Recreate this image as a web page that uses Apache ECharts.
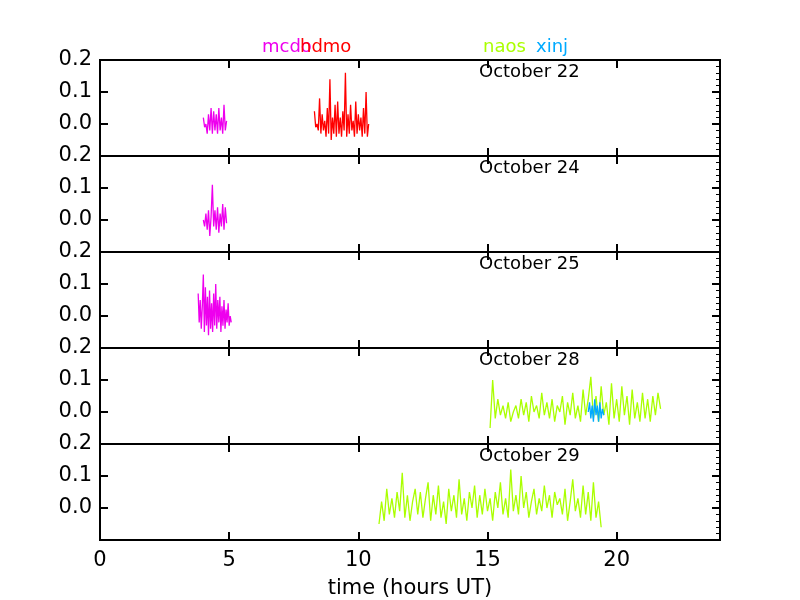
<!DOCTYPE html>
<html>
<head>
<meta charset="UTF-8">
<script src="https://cdn.jsdelivr.net/npm/echarts@6/dist/echarts.min.js"></script>
<style>body{margin:0}#c{width:800px;height:600px}</style>
</head>
<body>
<div id="c"></div>
<script>
// panel titles
const days = ['October 22', 'October 24', 'October 25', 'October 28', 'October 29'];
const xTicks = [0, 5, 10, 15, 20];
// each trace: panel, station, start hour, step (hours), values
const mcdo22 = [0.02,-0.01,0.0,-0.03,0.03,-0.02,0.05,-0.03,0.04,-0.02,0.03,-0.03,0.05,-0.02,0.02,-0.03,0.06,-0.02,0.01];
const hdmo22 = [0.04,-0.01,0.0,-0.02,0.08,-0.03,0.03,-0.02,0.01,-0.04,0.05,-0.03,0.14,-0.05,0.02,-0.03,0.06,-0.04,0.07,-0.03,
  0.02,-0.04,0.04,-0.02,0.16,-0.04,0.03,-0.03,0.06,-0.02,0.01,-0.04,0.07,-0.03,0.03,-0.02,0.02,-0.04,0.05,-0.03,0.1,-0.04,0.0];
const mcdo24 = [0.0,-0.02,0.02,-0.03,0.03,-0.05,0.01,0.11,-0.02,0.03,-0.03,0.04,-0.04,0.02,-0.02,0.05,-0.03,0.04,-0.01];
const mcdo25 = [0.07,-0.02,0.05,-0.04,0.03,0.13,-0.05,0.09,-0.03,0.06,-0.06,0.08,-0.04,0.04,-0.05,0.07,-0.03,0.1,-0.04,0.05,
  -0.02,0.06,-0.05,0.03,-0.03,0.05,-0.04,0.02,-0.02,0.04,-0.03,0.0,-0.02];
const naos28 = [-0.05,0.1,-0.02,0.04,-0.01,0.02,-0.02,0.03,-0.03,0.0,0.02,-0.02,0.04,-0.01,0.03,-0.03,0.05,0.0,0.02,-0.02,
  0.06,-0.01,0.03,-0.02,0.04,-0.03,0.02,0.0,0.05,-0.04,0.03,-0.01,0.06,-0.02,0.02,-0.03,0.07,-0.01,0.04,0.11,
  -0.02,0.05,-0.03,0.08,-0.01,0.03,-0.04,0.09,-0.02,0.04,-0.03,0.08,-0.01,0.05,-0.04,0.07,-0.02,0.03,-0.03,0.06,
  -0.02,0.04,-0.03,0.05,-0.01,0.06,0.01];
const xinj28 = [0.0,0.03,-0.02,0.02,-0.03,0.04,-0.01,0.02,-0.03,0.03,-0.02,0.01,-0.01];
const naos29 = [-0.05,0.02,-0.04,0.06,-0.02,0.03,-0.03,0.05,-0.01,0.11,-0.03,0.04,-0.04,0.02,0.06,-0.02,0.05,-0.03,0.03,0.08,
  -0.04,0.04,-0.02,0.07,-0.03,0.02,-0.05,0.06,-0.01,0.04,-0.03,0.09,-0.02,0.03,-0.04,0.05,0.0,0.07,-0.03,0.04,
  -0.02,0.06,-0.01,0.03,-0.04,0.05,0.0,0.08,-0.02,0.03,-0.03,0.12,-0.01,0.04,-0.02,0.1,0.0,0.05,-0.03,0.02,
  0.06,-0.02,0.03,-0.01,0.07,0.0,0.04,-0.03,0.05,0.01,0.03,-0.02,0.06,-0.04,0.02,0.09,-0.01,0.03,-0.03,0.07,
  -0.02,0.05,-0.04,0.08,-0.03,0.02,-0.06];
const traces = [
  [0, 'mcdo', 4.0, 0.05, mcdo22], [0, 'hdmo', 8.3, 0.05, hdmo22],
  [1, 'mcdo', 4.0, 0.05, mcdo24], [2, 'mcdo', 3.8, 0.04, mcdo25],
  [3, 'naos', 15.1, 0.1, naos28], [3, 'xinj', 18.9, 0.05, xinj28],
  [4, 'naos', 10.8, 0.1, naos29]
];
const colors = {mcdo: '#ee00ee', hdmo: '#ff0000', naos: '#aaff00', xinj: '#00aaff'};
const names = [['mcdo', 262], ['hdmo', 300], ['naos', 483], ['xinj', 536]];

const grid = [], xAxis = [], yAxis = [], series = [], graphic = [];
days.forEach((d, i) => {
  const last = i === days.length - 1;
  grid.push({left: 100, width: 620, top: 60 + 96 * i, height: 96, show: true, borderColor: '#000', borderWidth: 2});
  ['bottom', 'top'].forEach(pos => {
    xAxis.push({gridIndex: i, type: 'value', min: 0, max: 24, interval: 5, position: pos,
      axisLine: {show: false, onZero: false}, splitLine: {show: false},
      axisTick: {inside: true, length: 8, lineStyle: {width: 2, color: '#000'}},
      axisLabel: {show: last && pos === 'bottom', fontSize: 21, color: '#000', margin: 10, fontFamily: 'DejaVu Sans',
        formatter: v => xTicks.includes(v) ? String(v) : ''},
      name: last && pos === 'bottom' ? 'time (hours UT)' : '', nameLocation: 'middle', nameGap: 38,
      nameTextStyle: {fontSize: 21, color: '#000', fontFamily: 'DejaVu Sans'}});
  });
  ['left', 'right'].forEach(pos => {
    yAxis.push({gridIndex: i, type: 'value', min: -0.1, max: 0.2, interval: 0.1, position: pos,
      axisLine: {show: false, onZero: false}, splitLine: {show: false},
      axisTick: {inside: true, length: 8, lineStyle: {width: 2, color: '#000'}},
      minorTick: {show: pos === 'right', splitNumber: 5, length: 4, lineStyle: {color: '#000'}},
      axisLabel: {show: pos === 'left', fontSize: 21, color: '#000', fontFamily: 'DejaVu Sans', margin: 8,
        formatter: v => v < -0.05 ? '' : v.toFixed(1)}});
  });
  graphic.push({type: 'text', left: 479, top: 63 + 96 * i,
    style: {text: d, fontSize: 18, fill: '#000', fontFamily: 'DejaVu Sans'}});
});
traces.forEach(([p, st, t0, dt, vals]) => {
  series.push({type: 'line', xAxisIndex: p * 2, yAxisIndex: p * 2, showSymbol: false,
    lineStyle: {color: colors[st], width: 1.3}, animation: false,
    data: vals.map((v, k) => [t0 + k * dt, v])});
});
names.forEach(([n, x]) => graphic.push({type: 'text', left: x, top: 38,
  style: {text: n, fontSize: 18, fill: colors[n], fontFamily: 'DejaVu Sans'}}));

echarts.init(document.getElementById('c')).setOption({animation: false, grid, xAxis, yAxis, series, graphic});
</script>
</body>
</html>
